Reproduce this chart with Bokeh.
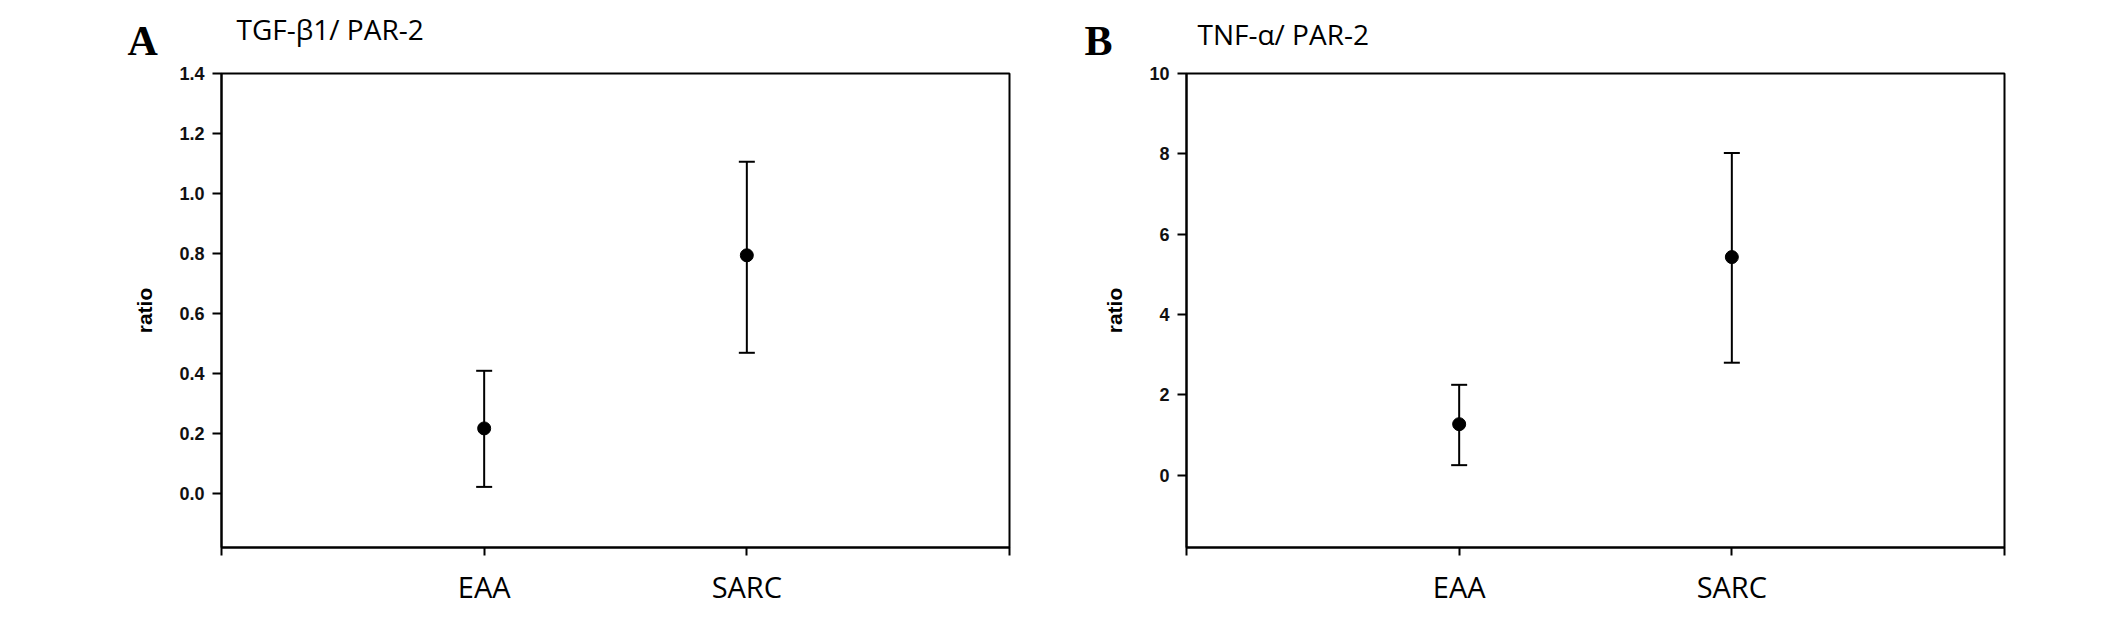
from bokeh.plotting import figure
from bokeh.models import Range1d, FixedTicker, Label, Whisker, ColumnDataSource, TeeHead
from bokeh.layouts import row, column
from bokeh.embed import file_html
from bokeh.resources import INLINE

# ---------------- data ----------------
groups = ["EAA", "SARC"]
group_pos = [1, 2]
x_ticks = [0, 1, 2, 3]
x_tick_labels = ["", "EAA", "SARC", ""]

a_letter = "A"
a_title = "TGF-β1/ PAR-2"
a_mean = [0.217, 0.794]
a_upper = [0.409, 1.106]
a_lower = [0.022, 0.469]
a_yticks = [0.0, 0.2, 0.4, 0.6, 0.8, 1.0, 1.2, 1.4]
a_ylabels = ["0.0", "0.2", "0.4", "0.6", "0.8", "1.0", "1.2", "1.4"]

b_letter = "B"
b_title = "TNF-α/ PAR-2"
b_mean = [1.27, 5.43]
b_upper = [2.25, 8.02]
b_lower = [0.25, 2.80]
b_yticks = [0, 2, 4, 6, 8, 10]
b_ylabels = ["0", "2", "4", "6", "8", "10"]

y_axis_label = "ratio"

SANS = "Liberation Sans"
CAL = "Open Sans"
SERIF = "Liberation Serif"

TOTAL_W = 2110
HEADER_H = 60
PLOT_H = 558


def make_panel(mean, upper, lower, yticks, ylabels, ymin, ymax, width, bl, br, bt, bb):
    p = figure(width=width, height=PLOT_H, output_backend="svg", toolbar_location=None,
               title=None,
               x_range=Range1d(0, 3), y_range=Range1d(ymin, ymax),
               min_border_left=bl, min_border_right=br, min_border_top=bt, min_border_bottom=bb)
    p.xgrid.visible = False
    p.ygrid.visible = False
    p.outline_line_color = "black"
    p.outline_line_width = 2
    p.outline_line_alpha = 1

    p.xaxis.ticker = FixedTicker(ticks=x_ticks)
    p.xaxis.major_label_overrides = {t: l for t, l in zip(x_ticks, x_tick_labels)}
    p.xaxis.minor_tick_line_color = None
    p.xaxis.major_tick_in = 0
    p.xaxis.major_tick_out = 8
    p.xaxis.major_tick_line_width = 2
    p.xaxis.axis_line_width = 2
    p.xaxis.major_label_text_font = CAL
    p.xaxis.major_label_text_font_size = "29px"
    p.xaxis.major_label_text_color = "black"
    p.xaxis.major_label_standoff = 11

    p.yaxis.ticker = FixedTicker(ticks=yticks)
    p.yaxis.major_label_overrides = {t: l for t, l in zip(yticks, ylabels)}
    p.yaxis.minor_tick_line_color = None
    p.yaxis.major_tick_in = 0
    p.yaxis.major_tick_out = 9
    p.yaxis.major_tick_line_width = 2
    p.yaxis.axis_line_width = 2
    p.yaxis.major_label_text_font = SANS
    p.yaxis.major_label_text_font_style = "bold"
    p.yaxis.major_label_text_font_size = "18px"
    p.yaxis.major_label_text_color = "#111111"
    p.yaxis.major_label_standoff = 8
    p.yaxis.axis_label = y_axis_label
    p.yaxis.axis_label_text_font = SANS
    p.yaxis.axis_label_text_font_style = "bold"
    p.yaxis.axis_label_text_font_size = "21px"
    p.yaxis.axis_label_text_color = "black"
    p.yaxis.axis_label_standoff = 20

    src = ColumnDataSource(dict(x=group_pos, mean=mean, upper=upper, lower=lower, g=groups))
    wh = Whisker(source=src, base="x", upper="upper", lower="lower", dimension="height",
                 line_color="black", line_width=2,
                 upper_head=TeeHead(size=16, line_width=2, line_color="black"),
                 lower_head=TeeHead(size=16, line_width=2, line_color="black"))
    p.add_layout(wh)
    p.scatter("x", "mean", source=src, size=13, color="black")
    return p


# header strip carrying the panel letters and titles (pixel-like coordinates, y downwards)
header = figure(frame_width=TOTAL_W, frame_height=HEADER_H, output_backend="svg",
                toolbar_location=None, title=None,
                x_range=Range1d(0, TOTAL_W), y_range=Range1d(HEADER_H, 0),
                x_axis_type=None, y_axis_type=None,
                min_border_left=0, min_border_right=0, min_border_top=0, min_border_bottom=0)
header.outline_line_color = None
header.xgrid.visible = False
header.ygrid.visible = False

for letter, lx, ly, title, tx, ty in [(a_letter, 127, 40, a_title, 236, 28),
                                      (b_letter, 1084, 40, b_title, 1197, 33)]:
    header.add_layout(Label(x=lx, y=ly, text=letter, text_font=SERIF, text_font_style="bold",
                            text_font_size="42px", text_color="black",
                            text_align="left", text_baseline="alphabetic"))
    header.add_layout(Label(x=tx, y=ty, text=title, text_font=CAL, text_font_size="28px",
                            text_color="black", text_align="left", text_baseline="alphabetic"))

pa = make_panel(a_mean, a_upper, a_lower, a_yticks, a_ylabels, -0.18, 1.4,
                1060, 221, 51, 6, 71)
pb = make_panel(b_mean, b_upper, b_lower, b_yticks, b_ylabels, -1.8, 10,
                1050, 126, 106, 13, 65)

layout = column(header, row(pa, pb))
open("out.html", "w").write(file_html(layout, INLINE))
